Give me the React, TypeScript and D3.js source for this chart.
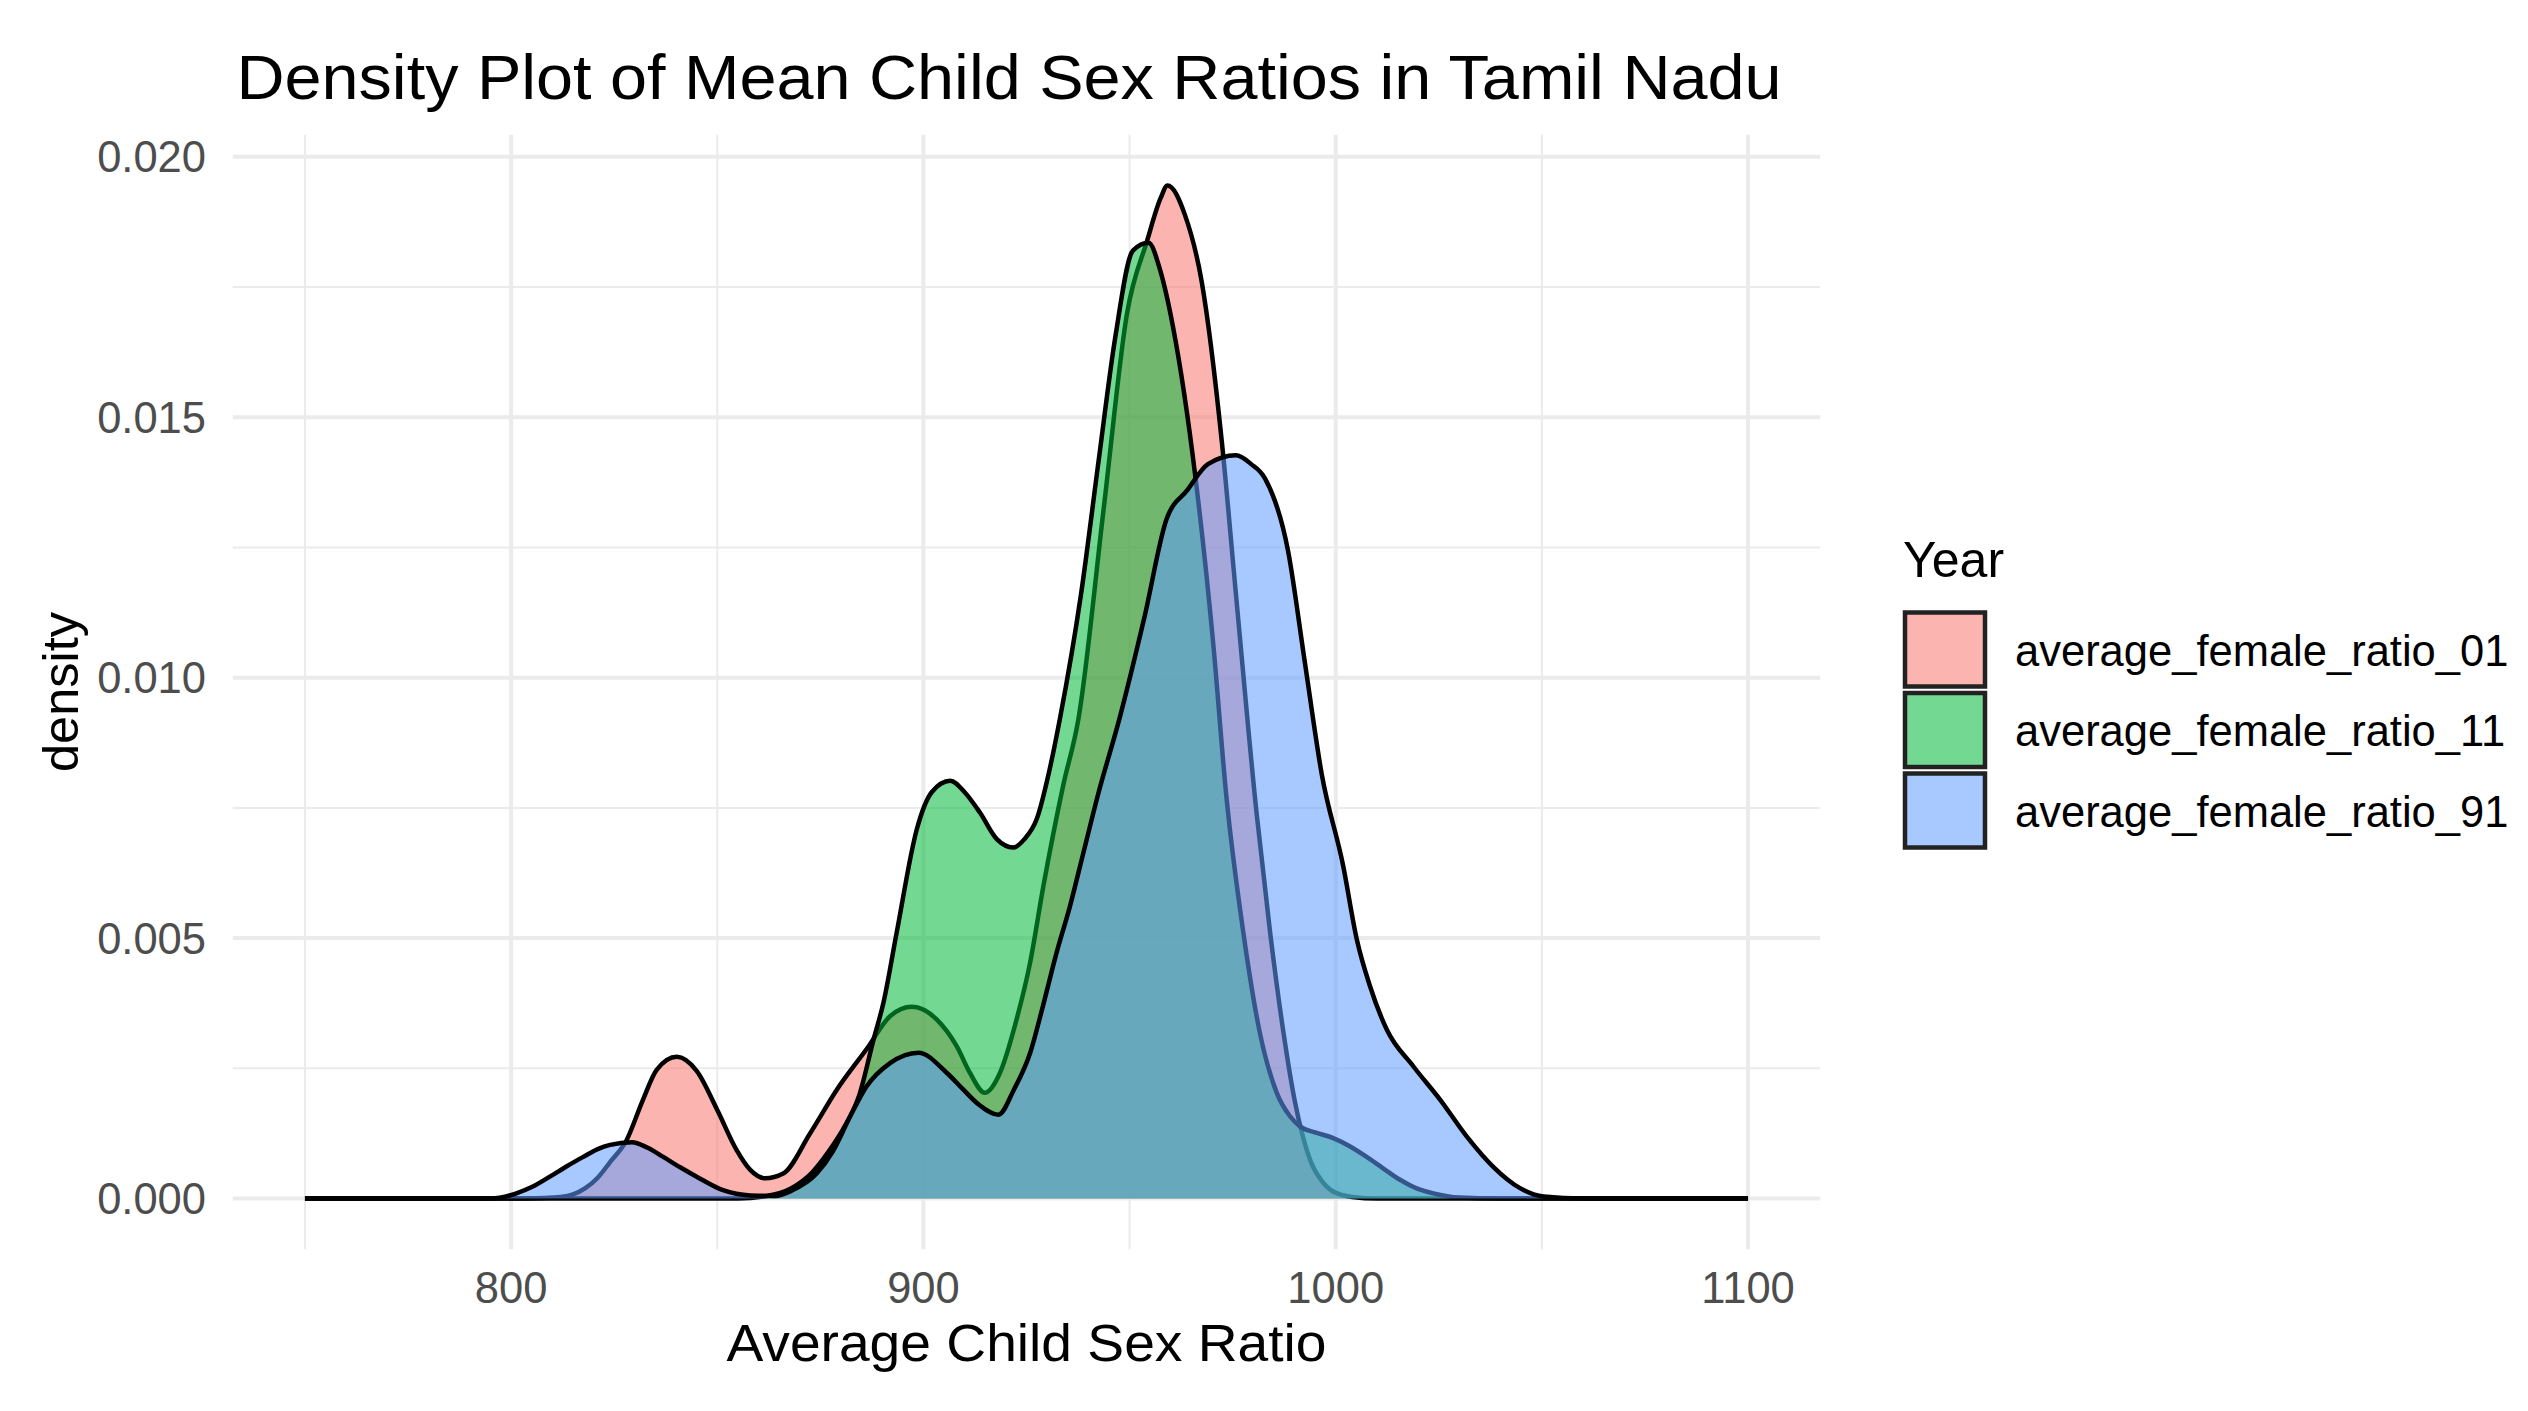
import React, { useEffect } from "react";
import * as d3 from "d3";

// ---- data ----
const seriesNames = ["average_female_ratio_01", "average_female_ratio_11", "average_female_ratio_91"];
const seriesColors = ["#F8766D", "#00BA38", "#619CFF"];

const density01: [number, number][] = [
  [750, 0], [800, 0], [808, 0.00001], [812, 0.00003], [815, 0.00008], [818, 0.0002], [821, 0.0004],
  [824, 0.0007], [828, 0.00112], [832, 0.0019], [835.3, 0.00247], [840.2, 0.00272], [845, 0.00245],
  [850, 0.0017], [854.7, 0.00093], [858, 0.00055], [861.6, 0.00039], [866, 0.00048], [872.5, 0.00125],
  [879, 0.00209], [886.5, 0.0029], [891.9, 0.0035], [897.2, 0.00368], [903.2, 0.00344], [908.1, 0.00292],
  [911.3, 0.00241], [914.9, 0.00203], [918.5, 0.0024], [922.6, 0.00344], [925.8, 0.0045], [929.1, 0.006],
  [933.9, 0.00793], [937.6, 0.00921], [943.8, 0.0133], [949.4, 0.017], [954.3, 0.0184], [957.5, 0.0192],
  [959.2, 0.01945], [963.4, 0.01889], [967.5, 0.0176], [972.4, 0.01451], [975.8, 0.0116], [980.8, 0.0074],
  [984.1, 0.0051], [987.3, 0.0032], [990, 0.0019], [992, 0.0012], [994, 0.0007], [996.5, 0.00035],
  [999.5, 0.00013], [1004, 0.00003], [1010, 0], [1100, 0],
];

const density11: [number, number][] = [
  [750, 0], [855, 0], [862, 0.00005], [868, 0.0002], [873, 0.0005], [877, 0.0009], [881, 0.0014],
  [884.5, 0.002], [887.9, 0.00305], [890.3, 0.00376], [893.5, 0.0051], [898.4, 0.00709], [902, 0.0078],
  [906.5, 0.00802], [910, 0.0078], [913.7, 0.00741], [917.8, 0.0069], [921.8, 0.00674], [924.5, 0.0069],
  [927.5, 0.00729], [930.5, 0.0082], [933.1, 0.00921], [938.2, 0.01159], [942.5, 0.01417], [946.6, 0.01657],
  [950.8, 0.0182], [954.6, 0.01835], [957.5, 0.0178], [960.5, 0.01675], [966, 0.01383], [970.2, 0.01073],
  [973.5, 0.0077], [977.6, 0.0051], [981.6, 0.00318], [985.7, 0.00203], [988.9, 0.00158], [991.4, 0.00138],
  [995, 0.00127], [999.4, 0.00116], [1003.5, 0.001], [1007.5, 0.0008], [1011.5, 0.00058], [1015.6, 0.00036],
  [1019.5, 0.0002], [1023.7, 0.0001], [1030, 0.00002], [1040, 0], [1100, 0],
];

const density91: [number, number][] = [
  [750, 0], [795, 0], [801.3, 0.0001], [805, 0.00022], [809.4, 0.00042], [813.5, 0.00062], [817.5, 0.0008],
  [821, 0.00095], [824, 0.00103], [829.3, 0.00108], [833, 0.00098], [836.9, 0.0008], [841, 0.0006],
  [845, 0.00042], [851.4, 0.00016], [858, 0.00006], [864, 0.00005], [868, 0.00015], [874.1, 0.00048],
  [878, 0.0009], [882.2, 0.00157], [886.2, 0.00215], [891.9, 0.0026], [898.8, 0.0028], [905.7, 0.00241],
  [909.7, 0.00209], [913.5, 0.0018], [918.2, 0.00161], [922, 0.0021], [925.9, 0.0028], [929, 0.0037],
  [932.3, 0.00472], [935.5, 0.0056], [938.8, 0.00664], [942.5, 0.0078], [947.5, 0.0092], [953.6, 0.01116],
  [959, 0.01305], [964, 0.0136], [969, 0.0141], [975.8, 0.01427], [979.5, 0.0141], [982.8, 0.01383],
  [988.4, 0.01245], [992.5, 0.0103], [996.6, 0.00815], [1001.8, 0.00639], [1005.1, 0.00498], [1008.3, 0.00408],
  [1012.4, 0.00324], [1018.8, 0.00254], [1025.3, 0.0019], [1031.8, 0.00119], [1038.2, 0.00061],
  [1044.7, 0.0002], [1050.4, 0.00004], [1060, 0], [1100, 0],
];

const xMajorTicks = [800, 900, 1000, 1100];
const xMinorTicks = [750, 850, 950, 1050];
const yMajorTicks = [0, 0.005, 0.01, 0.015, 0.02];
const yMinorTicks = [0.0025, 0.0075, 0.0125, 0.0175];

const titleText = "Density Plot of Mean Child Sex Ratios in Tamil Nadu";
const xTitle = "Average Child Sex Ratio";
const yTitle = "density";
const legendTitle = "Year";

const W = 2528;
const H = 1411;
const FONT = "'Liberation Sans', Arial, Helvetica, sans-serif";

export default function App() {
  useEffect(() => {
    document.body.style.margin = "0";
  }, []);

  const allSeries = [density01, density11, density91];
  const xExt: [number, number] = [750, 1100];
  const yMax = d3.max(allSeries.flat(), (d) => d[1]) as number;
  const xPad = (xExt[1] - xExt[0]) * 0.05;
  const yPad = yMax * 0.05;

  const panelL = 232.8, panelR = 1820.2, panelT = 134.8, panelB = 1249.2;
  const x = d3.scaleLinear().domain([xExt[0] - xPad, xExt[1] + xPad]).range([panelL, panelR]);
  const y = d3.scaleLinear().domain([-yPad, yMax + yPad]).range([panelB, panelT]);

  const area = d3.area<[number, number]>()
    .x((d) => x(d[0]))
    .y0(y(0))
    .y1((d) => y(d[1]))
    .curve(d3.curveMonotoneX);
  const line = d3.line<[number, number]>()
    .x((d) => x(d[0]))
    .y((d) => y(d[1]))
    .curve(d3.curveMonotoneX);

  const fmt = d3.format(".3f");
  const alpha = 0.55;
  const grid = "#ebebeb";

  const keyX = 1905, keyW = 80, keyH = 76, keyTop = 610.5, keyStep = 80.5;

  return (
    <svg width={W} height={H} viewBox={`0 0 ${W} ${H}`} style={{ display: "block", background: "#fff" }} fontFamily={FONT}>
      <rect x={0} y={0} width={W} height={H} fill="#fff" />
      {/* minor grid */}
      {yMinorTicks.map((t) => (
        <line key={"ym" + t} x1={panelL} x2={panelR} y1={y(t)} y2={y(t)} stroke={grid} strokeWidth={2} />
      ))}
      {xMinorTicks.map((t) => (
        <line key={"xm" + t} x1={x(t)} x2={x(t)} y1={panelT} y2={panelB} stroke={grid} strokeWidth={2} />
      ))}
      {/* major grid */}
      {yMajorTicks.map((t) => (
        <line key={"yM" + t} x1={panelL} x2={panelR} y1={y(t)} y2={y(t)} stroke={grid} strokeWidth={4} />
      ))}
      {xMajorTicks.map((t) => (
        <line key={"xM" + t} x1={x(t)} x2={x(t)} y1={panelT} y2={panelB} stroke={grid} strokeWidth={4} />
      ))}

      {/* densities */}
      {allSeries.map((s, i) => (
        <g key={"s" + i}>
          <path d={area(s) as string} fill={seriesColors[i]} fillOpacity={alpha} stroke="none" />
          <path d={line(s) as string} fill="none" stroke="#000" strokeWidth={4.5} strokeLinejoin="round" />
        </g>
      ))}

      {/* y tick labels */}
      {yMajorTicks.map((t) => (
        <text key={"yl" + t} x={206} y={y(t) + 15.5} textAnchor="end" fontSize={43.5} fill="#4d4d4d">
          {fmt(t)}
        </text>
      ))}
      {/* x tick labels */}
      {xMajorTicks.map((t) => (
        <text key={"xl" + t} x={x(t)} y={1302.5} textAnchor="middle" fontSize={43.5} fill="#4d4d4d">
          {t}
        </text>
      ))}

      {/* axis titles */}
      <text x={(panelL + panelR) / 2} y={1361} textAnchor="middle" fontSize={51} fill="#000"
        textLength={600} lengthAdjust="spacingAndGlyphs">
        {xTitle}
      </text>
      <text transform={`translate(78,${(panelT + panelB) / 2}) rotate(-90)`} textAnchor="middle" fontSize={50.5} fill="#000">
        {yTitle}
      </text>

      {/* title */}
      <text x={236.5} y={99} fontSize={63} fill="#000" textLength={1545} lengthAdjust="spacingAndGlyphs">
        {titleText}
      </text>

      {/* legend */}
      <text x={1903} y={577} fontSize={50} fill="#000">{legendTitle}</text>
      {seriesNames.map((n, i) => {
        const top = keyTop + i * keyStep;
        return (
          <g key={"lg" + i}>
            <rect x={keyX} y={top + 2} width={keyW} height={keyH - 2} fill={seriesColors[i]} fillOpacity={alpha}
              stroke="#222" strokeWidth={4.5} />
            <text x={2015} y={top + keyH / 2 + 17} fontSize={43.5} fill="#000">{n}</text>
          </g>
        );
      })}
    </svg>
  );
}
